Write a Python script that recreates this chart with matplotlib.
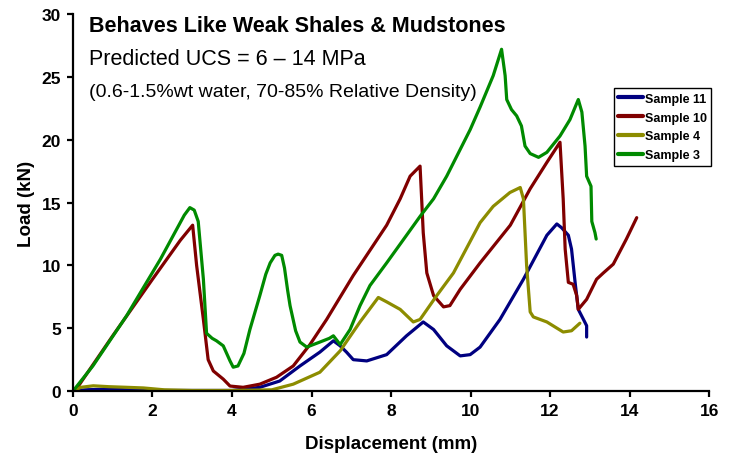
import matplotlib.pyplot as plt

# Load-displacement curves (displacement mm, load kN)
s11_x = [0.0, 0.3, 0.8, 1.5, 2.0, 3.0, 4.0, 4.7, 5.2, 5.71, 6.21, 6.55, 6.72, 6.88, 7.05, 7.39, 7.89,
         8.39, 8.81, 9.07, 9.40, 9.74, 9.99, 10.24, 10.74, 11.33, 11.92, 12.17, 12.29, 12.46, 12.54,
         12.63, 12.71, 12.84, 12.92, 12.92]
s11_y = [0.0, 0.1, 0.15, 0.1, 0.05, 0.05, 0.05, 0.3, 0.8, 2.0, 3.1, 4.0, 3.6, 3.1, 2.5, 2.4, 2.9,
         4.4, 5.5, 4.9, 3.6, 2.8, 2.9, 3.5, 5.7, 8.9, 12.4, 13.3, 13.0, 12.4, 11.3,
         8.65, 6.5, 5.7, 5.2, 4.3]

s10_x = [0.05, 1.0, 2.0, 2.7, 3.01, 3.11, 3.28, 3.40, 3.53, 3.78, 3.95, 4.28, 4.70, 5.12, 5.54, 5.96,
         6.38, 7.05, 7.89, 8.23, 8.48, 8.73, 8.77, 8.81, 8.90, 9.07, 9.32, 9.48, 9.74, 10.24, 11.0,
         11.50, 11.92, 12.25, 12.33, 12.38, 12.46, 12.58, 12.67, 12.71, 12.92, 13.17, 13.34, 13.59,
         13.92, 14.18]
s10_y = [0.0, 4.4, 8.9, 12.0, 13.2, 10.0, 5.7, 2.5, 1.6, 0.95, 0.4, 0.3, 0.55, 1.1, 2.0, 3.7,
         5.7, 9.2, 13.2, 15.3, 17.1, 17.9, 15.3, 12.6, 9.4, 7.6, 6.7, 6.8, 8.1, 10.2, 13.2,
         16.1, 18.2, 19.8, 15.3, 11.3, 8.65, 8.5, 7.6, 6.5, 7.3, 8.9, 9.4, 10.1,
         12.1, 13.8]

s4_x = [0.0, 0.2, 0.51, 0.9, 1.35, 1.77, 2.3, 3.0, 4.0, 5.0, 5.54, 6.21, 6.72, 7.22, 7.68, 7.89, 8.23,
        8.56, 8.73, 9.15, 9.57, 10.24, 10.57, 10.99, 11.25, 11.33, 11.41, 11.50, 11.58, 11.92,
        12.33, 12.54, 12.75]
s4_y = [0.0, 0.3, 0.42, 0.35, 0.3, 0.25, 0.1, 0.05, 0.05, 0.1, 0.55, 1.5, 3.2, 5.5, 7.45, 7.1, 6.5,
        5.5, 5.7, 7.6, 9.4, 13.4, 14.7, 15.8, 16.2, 15.3, 10.0, 6.3, 5.9, 5.5,
        4.7, 4.8, 5.4]

s3_x = [0.0, 0.5, 1.35, 2.2, 2.8, 2.94, 3.05, 3.15, 3.28, 3.36, 3.50, 3.61, 3.78, 3.95, 4.03, 4.15,
        4.30, 4.45, 4.70, 4.85, 4.96, 5.08, 5.16, 5.25, 5.32, 5.40, 5.46, 5.60, 5.71, 5.88, 6.21,
        6.45, 6.55, 6.72, 6.97, 7.22, 7.47, 7.89, 8.39, 8.73, 9.07, 9.40, 9.99, 10.24, 10.57, 10.78,
        10.87, 10.91, 11.03, 11.16, 11.28, 11.37, 11.50, 11.71, 11.92, 12.25, 12.50, 12.71, 12.80,
        12.88, 12.92, 13.03, 13.05, 13.13, 13.16]
s3_y = [0.0, 2.0, 6.0, 10.5, 14.0, 14.6, 14.4, 13.5, 8.9, 4.6, 4.2, 4.0, 3.6, 2.4, 1.9, 2.0,
        3.0, 4.9, 7.6, 9.3, 10.2, 10.8, 10.9, 10.8, 9.8, 8.0, 6.8, 4.8, 3.9, 3.5, 3.9,
        4.2, 4.4, 3.7, 4.9, 6.8, 8.4, 10.2, 12.4, 13.9, 15.3, 17.1, 20.8, 22.6, 25.1, 27.2,
        25.1, 23.2, 22.4, 21.9, 21.1, 19.5, 18.9, 18.6, 19.0, 20.3, 21.6, 23.2, 22.2,
        19.5, 17.1, 16.3, 13.5, 12.6, 12.1]

series = [
    ('Sample 11', s11_x, s11_y, '#000080'),
    ('Sample 10', s10_x, s10_y, '#800000'),
    ('Sample 4', s4_x, s4_y, '#8c8c00'),
    ('Sample 3', s3_x, s3_y, '#008a00'),
]

plt.rcParams['font.family'] = ['Liberation Sans', 'DejaVu Sans']

fig = plt.figure(figsize=(7.32, 4.64), dpi=100)
ax = fig.add_axes([0.0997, 0.155, 0.869, 0.8125])

for nome, xs, ys, cor in series:
    ax.plot(xs, ys, color=cor, linewidth=2.3, label=nome,
            solid_joinstyle='round', solid_capstyle='round')

ax.set_xlim(0, 16)
ax.set_ylim(0, 30)
ax.set_xticks(range(0, 17, 2))
ax.set_yticks(range(0, 31, 5))
for lado in ['top', 'right']:
    ax.spines[lado].set_visible(False)
for lado in ['left', 'bottom']:
    ax.spines[lado].set_linewidth(1.6)
ax.tick_params(direction='out', length=4.5, width=1.6, pad=4)
for rot in ax.get_xticklabels() + ax.get_yticklabels():
    rot.set_fontweight('bold')
    rot.set_fontsize(12.5)

ax.set_xlabel('Displacement (mm)', fontsize=13.5, fontweight='bold', labelpad=12)
ax.set_ylabel('Load (kN)', fontsize=13.5, fontweight='bold', labelpad=5)

# Anotações no canto superior esquerdo
fig.text(0.122, 0.931, 'Behaves Like Weak Shales & Mudstones', fontsize=15.5,
         fontweight='bold', va='baseline')
fig.text(0.122, 0.860, 'Predicted UCS = 6 \u2013 14 MPa', fontsize=15.5, va='baseline')
fig.text(0.122, 0.791, '(0.6-1.5%wt water, 70-85% Relative Density)', fontsize=14,
         va='baseline')

leg = ax.legend(loc='upper right', bbox_to_anchor=(1.003, 0.803), fancybox=False,
                edgecolor='black', framealpha=1, handlelength=2.0, handletextpad=0.1,
                borderpad=0.35, borderaxespad=0, labelspacing=0.55,
                prop={'weight': 'bold', 'size': 9})
leg.get_frame().set_linewidth(1.0)
for linha in leg.get_lines():
    linha.set_linewidth(3)

fig.savefig('out.png', dpi=100)
